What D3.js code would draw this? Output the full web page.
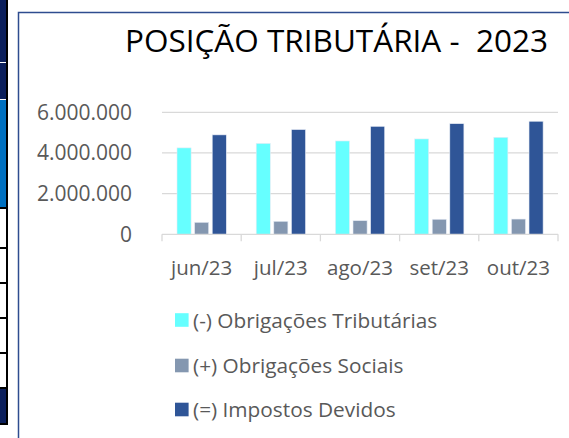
<!DOCTYPE html>
<html>
<head>
<meta charset="utf-8">
<script src="https://cdn.jsdelivr.net/npm/d3@7"></script>
<style>
  body { margin: 0; background: #fff; }
  svg { display: block; }
  text { font-family: "Open Sans", sans-serif; white-space: pre; }
</style>
</head>
<body>
<div class="chart"></div>
<script>
const months = ['jun/23', 'jul/23', 'ago/23', 'set/23', 'out/23'];
const seriesNames = ['(-) Obrigações Tributárias', '(+) Obrigações Sociais', '(=) Impostos Devidos'];
const tributarias = [4250000, 4470000, 4590000, 4690000, 4770000];
const sociais = [590000, 640000, 670000, 740000, 750000];
const devidos = [4890000, 5150000, 5310000, 5440000, 5560000];
const yTicks = [0, 2000000, 4000000, 6000000];
const colors = ['#66FFFF', '#8497B0', '#2F5597'];

const W = 569, H = 438;
const svg = d3.select('.chart').append('svg')
  .attr('width', W).attr('height', H);

// strip of the spreadsheet left of the chart
const strip = svg.append('g');
strip.append('rect').attr('x', 0).attr('y', 0).attr('width', 7).attr('height', 100).attr('fill', '#0B1F5C');
strip.append('rect').attr('x', 0).attr('y', 100).attr('width', 7).attr('height', 108).attr('fill', '#0070C0');
strip.append('rect').attr('x', 0).attr('y', 388).attr('width', 7).attr('height', 36).attr('fill', '#0B1F5C');
strip.append('line').attr('x1', 0).attr('x2', 7).attr('y1', 62.5).attr('y2', 62.5).attr('stroke', '#fff');
strip.append('line').attr('x1', 0).attr('x2', 7).attr('y1', 99.5).attr('y2', 99.5).attr('stroke', '#fff');
[208, 248, 283, 318, 353, 388, 424].forEach(y => {
  strip.append('line').attr('x1', 0).attr('x2', 7).attr('y1', y).attr('y2', y)
    .attr('stroke', '#000').attr('stroke-width', 2);
});
strip.append('line').attr('x1', 7).attr('x2', 7).attr('y1', 0).attr('y2', 425)
  .attr('stroke', '#000').attr('stroke-width', 2);

// chart frame
svg.append('path')
  .attr('d', `M${W + 2},12.5 H18.5 V${H + 2}`)
  .attr('fill', 'none').attr('stroke', '#2E4C8F').attr('stroke-width', 1.5);

svg.append('text')
  .attr('x', 125).attr('y', 52)
  .attr('font-size', 31.5)
  .attr('fill', '#000')
  .text('POSIÇÃO TRIBUTÁRIA -  2023');

const x0 = d3.scaleBand().domain(months).range([162, 558]);
const x1 = d3.scaleBand().domain(seriesNames).range([15, 64.3]).paddingInner(0.2);
const y = d3.scaleLinear().domain([0, 6000000]).range([234.3, 112.3]);

const br = d3.formatLocale({ decimal: ',', thousands: '.', grouping: [3], currency: ['R$', ''] });
const fmt = br.format(',.0f');

// gridlines
svg.append('g').selectAll('line')
  .data(yTicks.filter(d => d > 0))
  .join('line')
  .attr('x1', 162).attr('x2', 558)
  .attr('y1', d => y(d)).attr('y2', d => y(d))
  .attr('stroke', '#D9D9D9').attr('stroke-width', 1.3);

// y labels
svg.append('g').selectAll('text')
  .data(yTicks)
  .join('text')
  .attr('x', 132)
  .attr('y', d => y(d))
  .attr('dy', '0.35em')
  .attr('text-anchor', 'end')
  .attr('font-size', 21)
  .attr('fill', '#595959')
  .text(d => fmt(d));

// bars
const rows = months.map((m, i) => ({ month: m, values: [tributarias[i], sociais[i], devidos[i]] }));
const groups = svg.append('g').selectAll('g')
  .data(rows)
  .join('g')
  .attr('transform', d => `translate(${x0(d.month)},0)`);

groups.selectAll('rect')
  .data(d => d.values.map((v, j) => ({ name: seriesNames[j], v, j })))
  .join('rect')
  .attr('x', d => x1(d.name))
  .attr('width', x1.bandwidth())
  .attr('y', d => y(d.v))
  .attr('height', d => y(0) - y(d.v))
  .attr('fill', d => colors[d.j])
  .attr('stroke', '#E6ECF5').attr('stroke-width', 0.6);

// x axis
const xAxis = svg.append('g');
xAxis.append('line')
  .attr('x1', 162).attr('x2', 558)
  .attr('y1', y(0)).attr('y2', y(0))
  .attr('stroke', '#D9D9D9').attr('stroke-width', 1.3);
const bounds = months.map(m => x0(m)).concat([558]);
xAxis.selectAll('.tk')
  .data(bounds)
  .join('line')
  .attr('class', 'tk')
  .attr('x1', d => d).attr('x2', d => d)
  .attr('y1', y(0)).attr('y2', y(0) + 7)
  .attr('stroke', '#D9D9D9').attr('stroke-width', 1.3);
xAxis.selectAll('text')
  .data(months)
  .join('text')
  .attr('x', d => x0(d) + x0.bandwidth() / 2)
  .attr('y', 275)
  .attr('text-anchor', 'middle')
  .attr('font-size', 20.5)
  .attr('fill', '#595959')
  .text(d => d);

// legend
const legendY = [320, 365.5, 409.5];
const legend = svg.append('g').selectAll('g')
  .data(seriesNames)
  .join('g')
  .attr('transform', (d, i) => `translate(175,${legendY[i]})`);
legend.append('rect')
  .attr('x', 0).attr('y', -6.8)
  .attr('width', 13.6).attr('height', 13.6)
  .attr('fill', (d, i) => colors[i]);
legend.append('text')
  .attr('x', 18).attr('y', 0)
  .attr('dy', '0.36em')
  .attr('font-size', 20.8)
  .attr('fill', '#595959')
  .text(d => d);
</script>
</body>
</html>
